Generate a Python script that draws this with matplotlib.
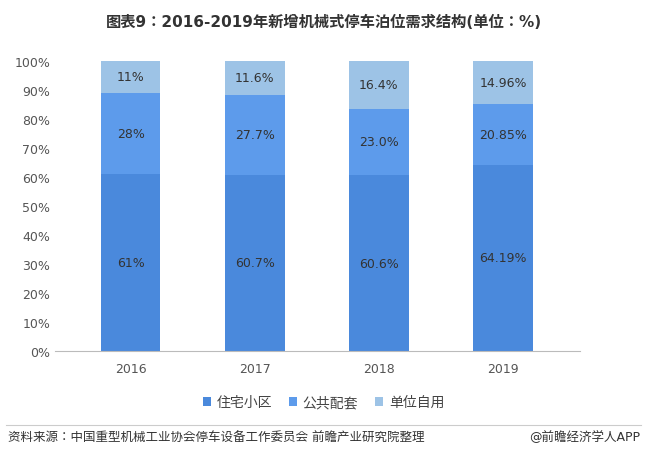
import matplotlib.pyplot as plt
from matplotlib import font_manager as fm

cjk = None
for f in fm.fontManager.ttflist:
    if 'CJK' in f.name and ('SC' in f.name or cjk is None):
        cjk = f.name
if cjk is None:
    for p in fm.findSystemFonts():
        if 'CJK' in p:
            fm.fontManager.addfont(p)
            cjk = fm.FontProperties(fname=p).get_name()
            break
plt.rcParams['font.family'] = ['DejaVu Sans', cjk] if cjk else ['DejaVu Sans']

years = ['2016', '2017', '2018', '2019']
res = [61, 60.7, 60.6, 64.19]
pub = [28, 27.7, 23.0, 20.85]
own = [11, 11.6, 16.4, 14.96]
res_l = ['61%', '60.7%', '60.6%', '64.19%']
pub_l = ['28%', '27.7%', '23.0%', '20.85%']
own_l = ['11%', '11.6%', '16.4%', '14.96%']
names = ['住宅小区', '公共配套', '单位自用']
colors = ['#4a89dc', '#5d9beb', '#9dc3e6']

fig = plt.figure(figsize=(6.47, 4.60), dpi=100)
ax = fig.add_axes([55/647, 1-352/460, 525/647, 290/460])
x = range(len(years))
w = 0.48
b1 = ax.bar(x, res, w, color=colors[0], label=names[0])
b2 = ax.bar(x, pub, w, bottom=res, color=colors[1], label=names[1])
bot3 = [a+b for a, b in zip(res, pub)]
b3 = ax.bar(x, own, w, bottom=bot3, color=colors[2], label=names[2])
for i in x:
    ax.text(i, res[i]/2, res_l[i], ha='center', va='center', fontsize=9, color='#333333')
    ax.text(i, res[i]+pub[i]/2, pub_l[i], ha='center', va='center', fontsize=9, color='#333333')
    ax.text(i, bot3[i]+own[i]/2, own_l[i], ha='center', va='center', fontsize=9, color='#333333')
ax.set_xlim(-0.61, 3.62)
ax.set_ylim(0, 100)
ax.set_yticks(range(0, 101, 10))
ax.set_yticklabels([f'{v}%' for v in range(0, 101, 10)], fontsize=9, color='#555555')
ax.set_xticks(list(x))
ax.set_xticklabels(years, fontsize=9, color='#555555')
for s in ['top', 'right', 'left']:
    ax.spines[s].set_visible(False)
ax.spines['bottom'].set_color('#bbbbbb')
ax.tick_params(length=0)
ax.tick_params(axis='x', pad=8)
fig.legend(handles=[b1, b2, b3], loc='center', bbox_to_anchor=(0.5, 1-403/460), ncol=3,
           frameon=False, fontsize=10, handlelength=0.6, handleheight=0.6, columnspacing=1.2,
           handletextpad=0.4, labelcolor='#444444')
fig.text(0.5, 1-22/460, '图表9：2016-2019年新增机械式停车泊位需求结构(单位：%)', ha='center', va='center',
         fontsize=11, fontweight='bold', color='#333333')
fig.add_artist(plt.Line2D([0.01, 0.99], [1-426/460]*2, color='#cccccc', lw=0.8))
fig.text(0.012, 1-438/460, '资料来源：中国重型机械工业协会停车设备工作委员会 前瞻产业研究院整理', va='center', fontsize=9, color='#333333')
fig.text(0.99, 1-438/460, '@前瞻经济学人APP', va='center', ha='right', fontsize=9, color='#333333')
fig.savefig('out.png', dpi=100)
